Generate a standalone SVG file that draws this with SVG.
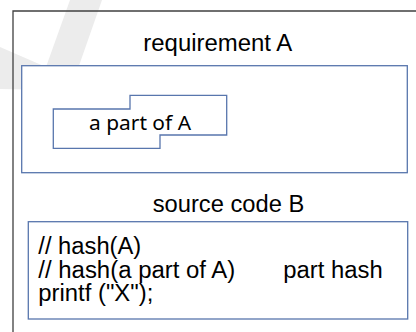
<svg xmlns="http://www.w3.org/2000/svg" width="416" height="332" viewBox="0 0 416 332">
<style>
.frame{fill:none;stroke:#404040;stroke-width:1.3}
.box{fill:#ffffff;stroke:#5876ad;stroke-width:1.3}
.lbl{font-family:"Liberation Sans",Arial,sans-serif;font-size:23px;fill:#000}
.cal{font-family:"Noto Sans","Open Sans",sans-serif;font-size:19px;fill:#000}
</style>
<rect width="416" height="332" fill="#ffffff"/>
<polygon points="0,47 46,67 70,0 102,0 74,80 56,90 0,89" fill="#ececec"/>
<path class="frame" d="M13,332 V11 H416"/>
<g id="requirementA">
<rect class="box" x="21.7" y="65.7" width="385.6" height="107"/>
<text class="lbl" x="143.3" y="51" textLength="149" lengthAdjust="spacingAndGlyphs">requirement A</text>
</g>
<g id="partOfA">
<polygon class="box" points="53.3,109 130,109 130,95.3 226.7,95.3 226.7,135 160,135 160,148.3 53.3,148.3"/>
<text class="cal" x="89" y="130" textLength="102" lengthAdjust="spacingAndGlyphs">a part of A</text>
</g>
<g id="sourceCodeB">
<rect class="box" x="28.3" y="221.7" width="379.4" height="97.3"/>
<text class="lbl" x="152.7" y="211.7" textLength="151.6" lengthAdjust="spacingAndGlyphs">source code B</text>
<text class="lbl" x="38.3" y="254" textLength="103" lengthAdjust="spacingAndGlyphs">// hash(A)</text>
<text class="lbl" x="38.3" y="277.5" textLength="197" lengthAdjust="spacingAndGlyphs">// hash(a part of A)</text>
<text class="lbl" x="283.3" y="277.5" textLength="99.4" lengthAdjust="spacingAndGlyphs">part hash</text>
<text class="lbl" x="38.3" y="301.3" textLength="115" lengthAdjust="spacingAndGlyphs">printf ("X");</text>
</g>
<g id="connectors"></g>
</svg>
